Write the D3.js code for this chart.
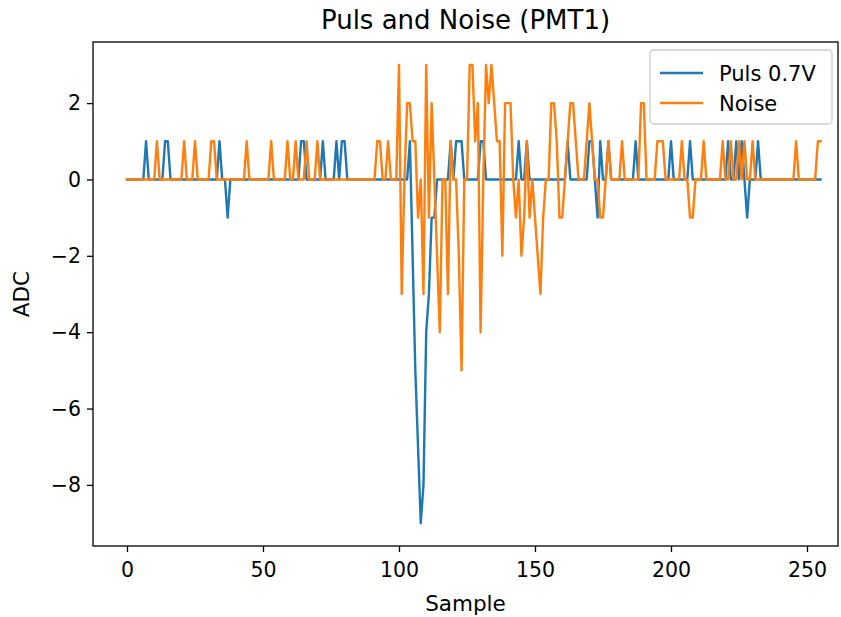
<!DOCTYPE html>
<html>
<head>
<meta charset="utf-8">
<script src="https://cdn.jsdelivr.net/npm/d3@7"></script>
<style>
  body { margin: 0; background: #fff; }
  svg { display: block; font-family: "DejaVu Sans", sans-serif; }
</style>
</head>
<body>
<div id="chart"></div>
<script>
// ADC readings per sample (0..255), 16 per row
const puls = [
  0,0,0,0,0,0,0,1,0,0,0,0,0,0,1,1,
  0,0,0,0,0,0,0,0,0,0,0,0,0,0,0,0,
  0,0,1,0,0,-1,0,0,0,0,0,0,0,0,0,0,
  0,0,0,0,0,0,0,0,0,0,0,0,0,0,0,0,
  1,1,0,0,0,0,0,0,1,0,0,0,0,1,0,1,
  1,0,0,0,0,0,0,0,0,0,0,0,0,0,0,0,
  0,0,0,0,0,0,0,0,1,-2,-5,-7,-9,-8,-4,-3,
  -1,-1,0,0,0,0,0,1,0,1,1,1,0,0,0,0,
  0,0,1,1,0,0,0,0,0,0,0,0,0,0,0,0,
  1,0,0,1,0,0,0,0,0,0,0,0,0,0,0,0,
  0,0,1,0,0,0,0,0,0,0,1,1,0,-1,1,0,
  0,1,0,0,0,0,0,0,0,0,0,1,0,0,0,0,
  0,0,0,0,0,0,0,0,1,0,0,0,0,0,0,1,
  0,0,0,0,0,0,0,0,0,0,0,0,0,1,0,0,
  1,0,1,0,-1,0,0,0,1,0,0,0,0,0,0,0,
  0,0,0,0,0,0,0,0,0,0,0,0,0,0,0,0
];
const noise = [
  0,0,0,0,0,0,0,0,0,0,0,1,0,0,0,0,
  0,0,0,0,0,1,0,0,0,1,0,0,0,0,0,1,
  1,0,0,0,0,0,0,0,0,0,0,0,1,0,0,0,
  0,0,0,0,0,1,0,0,0,0,0,1,0,0,1,0,
  0,0,1,0,0,0,1,0,0,0,0,0,0,0,0,0,
  0,0,0,0,0,0,0,0,0,0,0,0,1,1,0,0,
  1,0,0,0,3,-3,0,2,2,1,1,-1,0,-3,3,-1,
  2,0,-2,-4,0,0,-3,1,0,0,-2,-5,0,0,3,3,
  1,2,-4,0,3,2,3,2,1,1,-2,2,2,2,0,-1,
  0,-2,-1,1,-1,0,-1,-2,-3,-1,0,0,2,2,1,-1,
  -1,0,1,2,2,1,0,0,0,1,2,1,0,0,-1,-1,
  0,1,0,0,0,0,1,0,0,0,0,0,0,2,2,0,
  0,0,0,1,1,1,0,0,0,0,0,0,1,0,0,-1,
  -1,0,0,0,1,0,0,0,0,0,0,1,0,0,1,0,
  0,1,0,1,0,0,1,0,0,0,0,0,0,0,0,0,
  0,0,0,0,0,0,1,0,0,0,0,0,0,0,1,1
];
const seriesNames = ["Puls 0.7V", "Noise"];
const seriesColors = ["#1f77b4", "#ff7f0e"];
const xTicks = [0, 50, 100, 150, 200, 250];
const yTicks = [-8, -6, -4, -2, 0, 2];

const W = 841, H = 617;
const m = { left: 93, right: 3, top: 42, bottom: 71 };

const svg = d3.select("#chart").append("svg")
  .attr("width", W).attr("height", H);

const x = d3.scaleLinear().domain([-12.5, 261.4]).range([m.left, W - m.right]);
const y = d3.scaleLinear().domain([-9.6, 3.6]).range([H - m.bottom, m.top]);

const fmt = d => d < 0 ? "\u2212" + Math.abs(d) : String(d);

// axes
const xAxis = svg.append("g")
  .attr("transform", `translate(0,${H - m.bottom})`)
  .call(d3.axisBottom(x).tickValues(xTicks).tickSize(6).tickPadding(9).tickFormat(fmt));
const yAxis = svg.append("g")
  .attr("transform", `translate(${m.left},0)`)
  .call(d3.axisLeft(y).tickValues(yTicks).tickSize(6).tickPadding(6).tickFormat(fmt));
[xAxis, yAxis].forEach(g => {
  g.select(".domain").remove();
  g.selectAll("line").attr("stroke", "#000").attr("stroke-width", 1.3);
  g.selectAll("text").attr("fill", "#000").style("font-size", "20.5px")
    .style("font-family", "DejaVu Sans, sans-serif");
});
xAxis.selectAll("text").attr("dy", "0.8em");

// lines
const line = d3.line().x((d, i) => x(i)).y(d => y(d));
[puls, noise].forEach((s, k) => {
  svg.append("path")
    .datum(s)
    .attr("fill", "none")
    .attr("stroke", seriesColors[k])
    .attr("stroke-width", 2.4)
    .attr("stroke-linejoin", "round")
    .attr("stroke-linecap", "square")
    .attr("d", line);
});

// frame
svg.append("rect")
  .attr("x", m.left).attr("y", m.top)
  .attr("width", W - m.right - m.left).attr("height", H - m.bottom - m.top)
  .attr("fill", "none").attr("stroke", "#000").attr("stroke-width", 1.3);

// titles
svg.append("text")
  .attr("x", (m.left + W - m.right) / 2).attr("y", 29)
  .attr("text-anchor", "middle").style("font-size", "26px")
  .text("Puls and Noise (PMT1)");
svg.append("text")
  .attr("x", (m.left + W - m.right) / 2).attr("y", 611)
  .attr("text-anchor", "middle").style("font-size", "21.5px")
  .text("Sample");
svg.append("text")
  .attr("transform", `translate(29,${(m.top + H - m.bottom) / 2}) rotate(-90)`)
  .attr("text-anchor", "middle").style("font-size", "21.5px")
  .text("ADC");

// legend
const lg = svg.append("g").attr("transform", "translate(650,50)");
lg.append("rect")
  .attr("width", 182).attr("height", 74).attr("rx", 4)
  .attr("fill", "#fff").attr("fill-opacity", 0.8)
  .attr("stroke", "#cccccc").attr("stroke-width", 1.3);
seriesNames.forEach((name, k) => {
  const yy = 23 + k * 30;
  lg.append("line")
    .attr("x1", 10).attr("x2", 53).attr("y1", yy).attr("y2", yy)
    .attr("stroke", seriesColors[k]).attr("stroke-width", 2.4);
  lg.append("text")
    .attr("x", 69).attr("y", yy + 7.5)
    .style("font-size", "21px")
    .text(name);
});
</script>
</body>
</html>
